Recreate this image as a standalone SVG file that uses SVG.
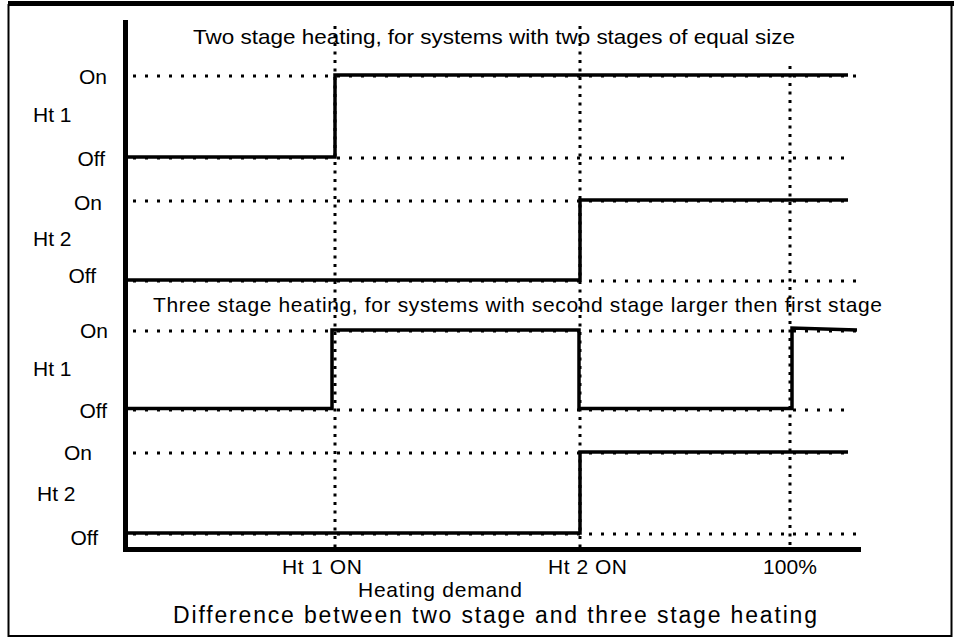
<svg xmlns="http://www.w3.org/2000/svg" width="954" height="639" viewBox="0 0 954 639">
<style>
.t{font-family:"Liberation Sans",Arial,sans-serif;fill:#000;}
.lbl{font-size:21px;}
.ttl{font-size:21px;}
.big{font-size:23px;}
.dh{stroke:#000;stroke-width:3;stroke-dasharray:3 9;fill:none;}
.dv{stroke:#000;stroke-width:3;stroke-dasharray:3 5.5;fill:none;}
.sig{stroke:#000;stroke-width:3.5;fill:none;stroke-linejoin:miter;}
.ax{stroke:#000;stroke-width:5;fill:none;}
</style>
<rect x="0" y="0" width="954" height="639" fill="#fff"/>
<g id="frame">
<rect x="8.5" y="5" width="943" height="631" fill="none" stroke="#000" stroke-width="2"/>
<line x1="8" y1="3.5" x2="954" y2="3.5" stroke="#000" stroke-width="5"/>
</g>
<g id="grid">
<line class="dh" x1="133" y1="76" x2="860" y2="76"/>
<line class="dh" x1="133" y1="158" x2="850" y2="158"/>
<line class="dh" x1="133" y1="201" x2="850" y2="201"/>
<line class="dh" x1="133" y1="281" x2="860" y2="281"/>
<line class="dh" x1="133" y1="331" x2="860" y2="331"/>
<line class="dh" x1="133" y1="410" x2="850" y2="410"/>
<line class="dh" x1="133" y1="453" x2="850" y2="453"/>
<line class="dh" x1="133" y1="534" x2="860" y2="534"/>
<line class="dv" x1="335" y1="26" x2="335" y2="548"/>
<line class="dv" x1="580" y1="26" x2="580" y2="548"/>
<line class="dv" x1="790" y1="66" x2="790" y2="548"/>
</g>
<g id="axes">
<line class="ax" x1="125.5" y1="20" x2="125.5" y2="551"/>
<line class="ax" x1="123" y1="549.5" x2="861" y2="549.5"/>
</g>
<g id="signals">
<polyline id="sig-two-ht1" class="sig" points="125,157 335,157 335,75 848,75"/>
<polyline id="sig-two-ht2" class="sig" points="125,280 580,280 580,200 848,200"/>
<polyline id="sig-three-ht1" class="sig" points="125,408.5 332,408.5 332,330 579,330 579,408.5 792,408.5 792,328 857,330"/>
<polyline id="sig-three-ht2" class="sig" points="125,533 580,533 580,452 848,452"/>
</g>
<g id="titles">
<text class="t ttl" x="193" y="44" textLength="602" lengthAdjust="spacingAndGlyphs">Two stage heating, for systems with two stages of equal size</text>
<text class="t ttl" x="153" y="312" textLength="729" lengthAdjust="spacing">Three stage heating, for systems with second stage larger then first stage</text>
</g>
<g id="y-labels">
<text class="t lbl" x="107" y="84" text-anchor="end">On</text>
<text class="t lbl" x="33" y="122">Ht 1</text>
<text class="t lbl" x="105" y="166" text-anchor="end">Off</text>
<text class="t lbl" x="102" y="210" text-anchor="end">On</text>
<text class="t lbl" x="33" y="246">Ht 2</text>
<text class="t lbl" x="96" y="283" text-anchor="end">Off</text>
<text class="t lbl" x="108" y="338" text-anchor="end">On</text>
<text class="t lbl" x="33" y="376">Ht 1</text>
<text class="t lbl" x="107" y="418" text-anchor="end">Off</text>
<text class="t lbl" x="92" y="460" text-anchor="end">On</text>
<text class="t lbl" x="37" y="501">Ht 2</text>
<text class="t lbl" x="98" y="545" text-anchor="end">Off</text>
</g>
<g id="x-labels">
<text class="t lbl" x="282" y="574" textLength="80" lengthAdjust="spacing">Ht 1 ON</text>
<text class="t lbl" x="548" y="574" textLength="79" lengthAdjust="spacing">Ht 2 ON</text>
<text class="t lbl" x="763" y="574" textLength="54" lengthAdjust="spacing">100%</text>
<text class="t lbl" x="358" y="597" textLength="164" lengthAdjust="spacing">Heating demand</text>
<text class="t big" x="173" y="623" textLength="644" lengthAdjust="spacing">Difference between two stage and three stage heating</text>
</g>
</svg>
